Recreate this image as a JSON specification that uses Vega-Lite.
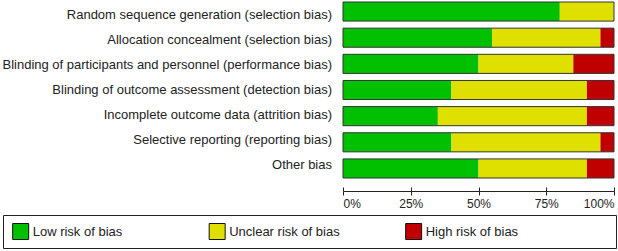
{
  "$schema": "https://vega.github.io/schema/vega-lite/v6.json",
  "padding": {"left": 2, "top": 1, "right": 1, "bottom": 1},
  "background": "white",
  "config": {
    "view": {"stroke": null},
    "font": "Liberation Sans",
    "axis": {"labelFont": "Liberation Sans", "labelColor": "#222"},
    "text": {"font": "Liberation Sans"}
  },
  "datasets": {
    "risk": [
      {"domain": "Random sequence generation (selection bias)", "judgement": "Low risk of bias", "ord": 1, "pct": 80},
      {"domain": "Random sequence generation (selection bias)", "judgement": "Unclear risk of bias", "ord": 2, "pct": 20},
      {"domain": "Random sequence generation (selection bias)", "judgement": "High risk of bias", "ord": 3, "pct": 0},
      {"domain": "Allocation concealment (selection bias)", "judgement": "Low risk of bias", "ord": 1, "pct": 55},
      {"domain": "Allocation concealment (selection bias)", "judgement": "Unclear risk of bias", "ord": 2, "pct": 40},
      {"domain": "Allocation concealment (selection bias)", "judgement": "High risk of bias", "ord": 3, "pct": 5},
      {"domain": "Blinding of participants and personnel (performance bias)", "judgement": "Low risk of bias", "ord": 1, "pct": 50},
      {"domain": "Blinding of participants and personnel (performance bias)", "judgement": "Unclear risk of bias", "ord": 2, "pct": 35},
      {"domain": "Blinding of participants and personnel (performance bias)", "judgement": "High risk of bias", "ord": 3, "pct": 15},
      {"domain": "Blinding of outcome assessment (detection bias)", "judgement": "Low risk of bias", "ord": 1, "pct": 40},
      {"domain": "Blinding of outcome assessment (detection bias)", "judgement": "Unclear risk of bias", "ord": 2, "pct": 50},
      {"domain": "Blinding of outcome assessment (detection bias)", "judgement": "High risk of bias", "ord": 3, "pct": 10},
      {"domain": "Incomplete outcome data (attrition bias)", "judgement": "Low risk of bias", "ord": 1, "pct": 35},
      {"domain": "Incomplete outcome data (attrition bias)", "judgement": "Unclear risk of bias", "ord": 2, "pct": 55},
      {"domain": "Incomplete outcome data (attrition bias)", "judgement": "High risk of bias", "ord": 3, "pct": 10},
      {"domain": "Selective reporting (reporting bias)", "judgement": "Low risk of bias", "ord": 1, "pct": 40},
      {"domain": "Selective reporting (reporting bias)", "judgement": "Unclear risk of bias", "ord": 2, "pct": 55},
      {"domain": "Selective reporting (reporting bias)", "judgement": "High risk of bias", "ord": 3, "pct": 5},
      {"domain": "Other bias", "judgement": "Low risk of bias", "ord": 1, "pct": 50},
      {"domain": "Other bias", "judgement": "Unclear risk of bias", "ord": 2, "pct": 40},
      {"domain": "Other bias", "judgement": "High risk of bias", "ord": 3, "pct": 10}
    ],
    "legend": [
      {"judgement": "Low risk of bias"},
      {"judgement": "Unclear risk of bias"},
      {"judgement": "High risk of bias"}
    ]
  },
  "vconcat": [
    {
      "spacing": 6,
      "hconcat": [
        {
          "width": 333,
          "height": 176,
          "data": {"name": "risk"},
          "transform": [{"filter": "datum.ord == 1"}],
          "mark": {"type": "text", "align": "right", "baseline": "middle", "fontSize": 13, "dx": -4, "color": "#222"},
          "encoding": {
            "y": {
              "field": "domain", "type": "nominal", "sort": null,
              "scale": {"paddingInner": 0.27, "paddingOuter": 0},
              "axis": null
            },
            "x": {"value": "width"},
            "text": {"field": "domain"}
          }
        },
        {
          "width": 271,
          "height": 176,
          "data": {"name": "risk"},
          "layer": [
            {
              "mark": {"type": "bar", "stroke": null},
              "encoding": {
                "y": {
                  "field": "domain", "type": "nominal", "sort": null,
                  "scale": {"paddingInner": 0.27, "paddingOuter": 0},
                  "axis": null
                },
                "x": {
                  "field": "pct", "type": "quantitative", "stack": "zero", "title": null,
                  "scale": {"domain": [0, 100], "nice": false},
                  "axis": {"orient": "bottom", "values": [0, 25, 50, 75, 100], "labelExpr": "datum.value + '%'", "labelFlush": true, "labelFontSize": 12, "offset": 13, "tickSize": 4, "tickColor": "#222", "domainColor": "#222", "labelPadding": 3, "grid": false}
                },
                "order": {"field": "ord"},
                "color": {
                  "field": "judgement", "type": "nominal",
                  "scale": {"domain": ["Low risk of bias", "Unclear risk of bias", "High risk of bias"], "range": ["#00C000", "#E0E000", "#C00000"]},
                  "legend": null
                }
              }
            },
            {
              "mark": {"type": "bar", "fill": null, "fillOpacity": 0, "stroke": "#333", "strokeWidth": 1},
              "encoding": {
                "y": {"field": "domain", "type": "nominal", "sort": null},
                "x": {
                  "aggregate": "sum", "field": "pct", "type": "quantitative",
                  "axis": {"orient": "bottom", "values": [0, 25, 50, 75, 100], "labels": false, "domain": false, "offset": 13, "tickSize": -4, "tickColor": "#222", "grid": false, "title": null}
                }
              }
            }
          ],
          "resolve": {"axis": {"x": "independent"}}
        }
      ]
    },
    {
      "width": 613,
      "height": 33,
      "view": {"stroke": "#222", "strokeWidth": 1},
      "data": {"name": "legend"},
      "layer": [
        {
          "mark": {"type": "square", "size": 256, "filled": true, "opacity": 1, "stroke": "#111", "strokeWidth": 1},
          "encoding": {
            "x": {
              "field": "judgement", "type": "nominal", "sort": null, "bandPosition": 0,
              "scale": {"type": "band", "paddingInner": 0, "paddingOuter": 0.06, "align": 0.75},
              "axis": null
            },
            "color": {
              "field": "judgement", "type": "nominal",
              "scale": {"domain": ["Low risk of bias", "Unclear risk of bias", "High risk of bias"], "range": ["#00C000", "#E0E000", "#C00000"]},
              "legend": null
            }
          }
        },
        {
          "mark": {"type": "text", "align": "left", "baseline": "middle", "dx": 12, "fontSize": 13, "color": "#222"},
          "encoding": {
            "x": {"field": "judgement", "type": "nominal", "sort": null, "bandPosition": 0},
            "text": {"field": "judgement"}
          }
        }
      ]
    }
  ],
  "spacing": 5
}
